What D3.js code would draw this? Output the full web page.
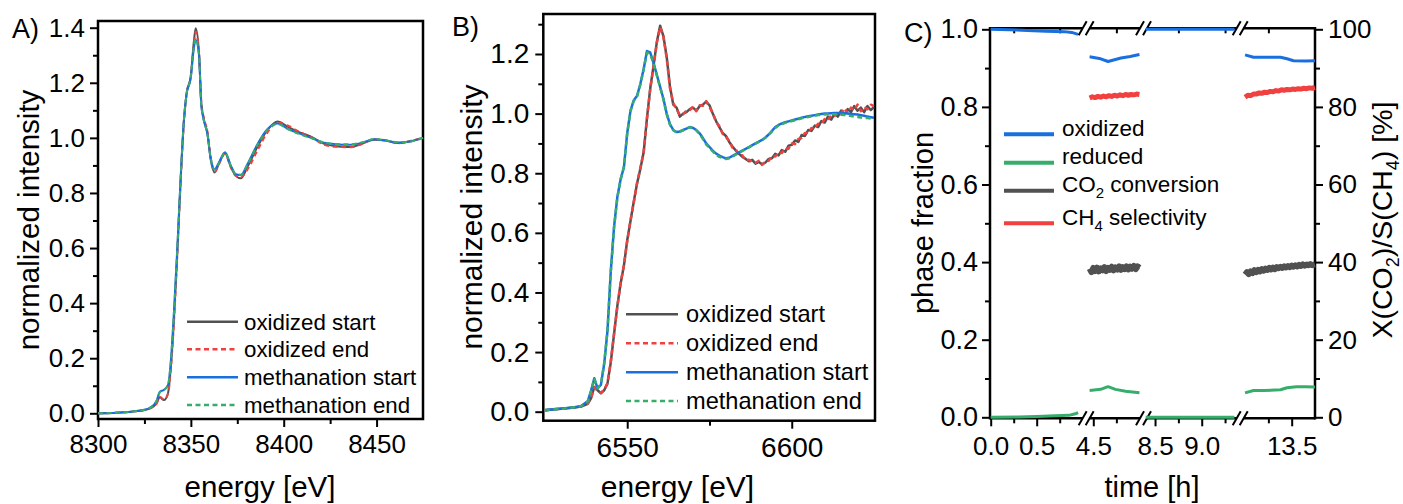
<!DOCTYPE html>
<html>
<head>
<meta charset="utf-8">
<script src="https://cdnjs.cloudflare.com/ajax/libs/d3/7.8.5/d3.min.js"></script>
<style>
  body { margin: 0; background: #fff; }
  svg text { font-family: "Liberation Sans", Arial, Helvetica, sans-serif; fill: #000; }
</style>
</head>
<body>
<div class="chart"></div>
<script>
// ---- panel A : Ni K-edge XANES ----
const aEnergy = [8300, 8310, 8318, 8325, 8328, 8331.5, 8333.3, 8335.5, 8337.7, 8339.1,
  8340.9, 8342.7, 8344.5, 8346.3, 8347.7, 8349.9, 8351.7, 8352.6, 8354.4, 8355.6,
  8357.1, 8358.9, 8360.7, 8362.8, 8365.2, 8368.4, 8371.5, 8374.2, 8376.9, 8380.5,
  8385.9, 8391.3, 8396.7, 8402.1, 8407.5, 8414.7, 8421.8, 8428, 8436.2, 8442,
  8448.8, 8455, 8461.4, 8468.6, 8475];
const aOxStart = [0.0, 0.002, 0.006, 0.012, 0.018, 0.036, 0.058, 0.048, 0.073, 0.157,
  0.339, 0.581, 0.847, 1.065, 1.162, 1.222, 1.355, 1.398, 1.307, 1.126,
  1.065, 1.017, 0.92, 0.874, 0.908, 0.944, 0.895, 0.862, 0.853, 0.895,
  0.968, 1.029, 1.059, 1.041, 1.023, 1.004, 0.978, 0.97, 0.967, 0.978,
  0.993, 0.99, 0.981, 0.988, 1.0];
const aOxEnd = [0.0, 0.002, 0.006, 0.012, 0.018, 0.034, 0.06, 0.05, 0.07, 0.15,
  0.33, 0.575, 0.84, 1.06, 1.16, 1.22, 1.34, 1.385, 1.31, 1.135,
  1.07, 1.025, 0.93, 0.876, 0.905, 0.942, 0.893, 0.862, 0.857, 0.885,
  0.955, 1.02, 1.055, 1.045, 1.025, 1.003, 0.975, 0.968, 0.966, 0.978,
  0.995, 0.992, 0.98, 0.99, 1.0];
const aMeStart = [0.0, 0.002, 0.006, 0.013, 0.02, 0.045, 0.078, 0.085, 0.103, 0.18,
  0.37, 0.6, 0.855, 1.07, 1.16, 1.215, 1.33, 1.355, 1.3, 1.12,
  1.06, 1.015, 0.925, 0.886, 0.912, 0.948, 0.9, 0.868, 0.865, 0.905,
  0.978, 1.032, 1.052, 1.033, 1.018, 1.0, 0.982, 0.977, 0.975, 0.982,
  0.995, 0.99, 0.983, 0.988, 1.0];
const aMeEnd = [0.0, 0.002, 0.006, 0.013, 0.02, 0.044, 0.076, 0.084, 0.102, 0.178,
  0.365, 0.598, 0.852, 1.068, 1.16, 1.218, 1.335, 1.36, 1.3, 1.122,
  1.06, 1.016, 0.926, 0.884, 0.91, 0.946, 0.899, 0.868, 0.866, 0.903,
  0.975, 1.03, 1.05, 1.032, 1.016, 0.999, 0.983, 0.978, 0.977, 0.983,
  0.996, 0.991, 0.984, 0.987, 1.0];
const aXTicks = [8300, 8350, 8400, 8450];
const aXMinor = [8325, 8375, 8425];
const aYTicks = [0, 0.2, 0.4, 0.6, 0.8, 1.0, 1.2, 1.4];
const aYMinor = [0.1, 0.3, 0.5, 0.7, 0.9, 1.1, 1.3];

// ---- panel B : Fe K-edge XANES ----
const bEnergy = [6525, 6528, 6531, 6534, 6536, 6538, 6539, 6540, 6541, 6542,
  6543, 6544, 6545, 6546, 6547, 6548, 6549, 6550, 6551, 6552,
  6553, 6554, 6555, 6556, 6557, 6558, 6559, 6560, 6561, 6562,
  6563, 6564, 6565, 6566, 6567, 6568, 6569, 6570, 6571, 6572,
  6573, 6574, 6575, 6576, 6577, 6578, 6579, 6580, 6581, 6582,
  6583, 6584, 6585, 6586, 6587, 6588, 6589, 6590, 6591, 6592,
  6593, 6594, 6595, 6596, 6597, 6598, 6599, 6600, 6601, 6602,
  6603, 6604, 6605, 6606, 6607, 6608, 6609, 6610, 6611, 6612,
  6613, 6614, 6615, 6616, 6617, 6618, 6619, 6620, 6621, 6622,
  6623, 6624, 6625];
const bOxStart = [0.005, 0.008, 0.011, 0.014, 0.017, 0.026, 0.045, 0.083, 0.072, 0.062,
  0.072, 0.094, 0.165, 0.26, 0.355, 0.43, 0.49, 0.575, 0.64, 0.705,
  0.766, 0.815, 0.87, 0.985, 1.085, 1.16, 1.24, 1.295, 1.26, 1.19,
  1.09, 1.03, 1.02, 0.99, 1.0, 1.005, 1.015, 1.02, 1.01, 1.025,
  1.03, 1.04, 1.028, 1.0, 0.975, 0.955, 0.935, 0.925, 0.905, 0.89,
  0.876, 0.865, 0.855, 0.848, 0.84, 0.845, 0.832, 0.838, 0.83, 0.836,
  0.848, 0.85, 0.865, 0.86, 0.878, 0.872, 0.892, 0.895, 0.91, 0.905,
  0.928, 0.925, 0.945, 0.942, 0.96, 0.955, 0.975, 0.97, 0.99, 0.98,
  1.0, 0.99, 1.01, 0.998, 1.015, 1.005, 1.025, 1.01, 1.02, 1.005,
  1.025, 1.012, 1.022];
const bOxEnd = [0.004, 0.009, 0.01, 0.015, 0.018, 0.027, 0.047, 0.081, 0.07, 0.063,
  0.074, 0.096, 0.168, 0.262, 0.352, 0.432, 0.492, 0.572, 0.642, 0.702,
  0.768, 0.818, 0.872, 0.982, 1.082, 1.158, 1.238, 1.29, 1.258, 1.185,
  1.085, 1.035, 1.015, 0.995, 0.998, 1.01, 1.012, 1.024, 1.008, 1.028,
  1.026, 1.042, 1.022, 1.002, 0.972, 0.958, 0.932, 0.922, 0.908, 0.886,
  0.88, 0.86, 0.86, 0.843, 0.845, 0.838, 0.835, 0.842, 0.828, 0.84,
  0.842, 0.858, 0.856, 0.87, 0.868, 0.884, 0.882, 0.9, 0.898, 0.915,
  0.918, 0.935, 0.935, 0.952, 0.95, 0.966, 0.965, 0.982, 0.978, 0.995,
  0.992, 1.005, 1.0, 1.018, 1.002, 1.02, 1.012, 1.03, 1.008, 1.022,
  1.015, 1.03, 1.025];
const bMeStart = [0.006, 0.008, 0.012, 0.015, 0.019, 0.035, 0.07, 0.112, 0.078, 0.09,
  0.16, 0.27, 0.47, 0.62, 0.72, 0.78, 0.82, 0.935, 1.01, 1.045,
  1.06, 1.1, 1.15, 1.21, 1.205, 1.17, 1.13, 1.09, 1.05, 1.0,
  0.965, 0.945, 0.938, 0.94, 0.945, 0.95, 0.955, 0.952, 0.945, 0.934,
  0.918, 0.9, 0.888, 0.876, 0.866, 0.859, 0.854, 0.85, 0.852, 0.858,
  0.864, 0.87, 0.876, 0.882, 0.888, 0.894, 0.9, 0.906, 0.912, 0.92,
  0.93, 0.942, 0.955, 0.962, 0.967, 0.971, 0.974, 0.977, 0.98, 0.983,
  0.986, 0.989, 0.991, 0.993, 0.995, 0.997, 0.999, 1.0, 1.0, 1.001,
  1.002, 1.002, 1.002, 1.001, 1.0, 0.999, 0.998, 0.997, 0.995, 0.993,
  0.99, 0.988, 0.986];
const bMeEnd = [0.005, 0.008, 0.011, 0.015, 0.019, 0.034, 0.068, 0.11, 0.079, 0.092,
  0.162, 0.272, 0.468, 0.618, 0.718, 0.778, 0.822, 0.932, 1.008, 1.043,
  1.058, 1.098, 1.148, 1.205, 1.2, 1.168, 1.128, 1.088, 1.048, 0.998,
  0.962, 0.944, 0.937, 0.94, 0.944, 0.95, 0.954, 0.951, 0.944, 0.932,
  0.915, 0.897, 0.885, 0.873, 0.862, 0.855, 0.851, 0.848, 0.85, 0.856,
  0.862, 0.868, 0.875, 0.881, 0.887, 0.893, 0.899, 0.905, 0.911, 0.919,
  0.929, 0.94, 0.952, 0.96, 0.965, 0.969, 0.972, 0.975, 0.978, 0.981,
  0.984, 0.987, 0.989, 0.991, 0.993, 0.995, 0.996, 0.997, 0.998, 0.998,
  0.998, 0.997, 0.996, 0.995, 0.994, 0.992, 0.99, 0.989, 0.987, 0.986,
  0.985, 0.984, 0.984];
const bXTicks = [6550, 6600];
const bXMinor = [6575];
const bYTicks = [0, 0.2, 0.4, 0.6, 0.8, 1.0, 1.2];
const bYMinor = [0.1, 0.3, 0.5, 0.7, 0.9, 1.1, 1.3];

const spectraLabels = ['oxidized start', 'oxidized end', 'methanation start', 'methanation end'];

// ---- panel C : phase fractions and catalytic performance vs time ----
// each series is a list of segments (one per broken-axis block), points are [time h, value]
const cOxidized = [
  [[0, 1.0], [0.2, 0.999], [0.4, 0.997], [0.6, 0.995], [0.8, 0.994], [0.88, 0.992], [0.95, 0.987]],
  [[4.46, 0.929], [4.58, 0.924], [4.66, 0.917], [4.74, 0.922], [4.8, 0.926], [4.9, 0.93], [5.0, 0.935]],
  [[8.4, 1.0], [8.9, 1.0], [9.35, 1.0]],
  [[13.0, 0.934], [13.09, 0.928], [13.2, 0.928], [13.38, 0.928], [13.45, 0.924], [13.52, 0.919], [13.65, 0.918], [13.75, 0.919]]
];
const cReduced = [
  [[0, 0.0], [0.3, 0.001], [0.5, 0.002], [0.7, 0.004], [0.85, 0.005], [0.92, 0.009], [0.95, 0.012]],
  [[4.46, 0.069], [4.58, 0.072], [4.66, 0.079], [4.74, 0.072], [4.85, 0.067], [5.0, 0.063]],
  [[8.4, 0.0], [8.9, 0.0], [9.35, 0.0]],
  [[13.0, 0.063], [13.09, 0.069], [13.2, 0.069], [13.38, 0.071], [13.45, 0.076], [13.55, 0.079], [13.65, 0.079], [13.75, 0.078]]
];
const cCO2Conv = [
  [[4.46, 38.3], [4.48, 37.4], [4.5, 38.5], [4.52, 37.7], [4.54, 38.6], [4.56, 37.6], [4.58, 38.4], [4.6, 37.9],
   [4.62, 38.7], [4.64, 37.7], [4.66, 38.5], [4.68, 38.0], [4.7, 38.8], [4.72, 37.9], [4.74, 38.6], [4.76, 38.1],
   [4.78, 38.9], [4.8, 38.0], [4.82, 38.7], [4.84, 38.2], [4.86, 38.9], [4.88, 38.1], [4.9, 38.8], [4.92, 38.3],
   [4.94, 39.0], [4.96, 38.2], [4.98, 38.9], [5.0, 38.5]],
  [[13.0, 36.8], [13.02, 37.4], [13.04, 36.9], [13.06, 37.6], [13.08, 37.2], [13.1, 37.9], [13.12, 37.4], [13.14, 38.0],
   [13.16, 37.6], [13.18, 38.2], [13.2, 37.8], [13.22, 38.3], [13.24, 38.0], [13.26, 38.5], [13.28, 38.1], [13.3, 38.6],
   [13.32, 38.2], [13.34, 38.7], [13.36, 38.4], [13.38, 38.8], [13.4, 38.5], [13.42, 38.9], [13.44, 38.6], [13.46, 39.0],
   [13.48, 38.7], [13.5, 39.1], [13.52, 38.8], [13.54, 39.2], [13.56, 38.9], [13.58, 39.3], [13.6, 39.0], [13.62, 39.4],
   [13.64, 39.1], [13.66, 39.4], [13.68, 39.2], [13.7, 39.5], [13.72, 39.2], [13.75, 39.4]]
];
const cCH4Sel = [
  [[4.46, 82.3], [4.49, 82.6], [4.52, 82.4], [4.55, 82.7], [4.58, 82.5], [4.61, 82.8], [4.64, 82.6], [4.67, 82.9],
   [4.7, 82.7], [4.73, 83.0], [4.76, 82.8], [4.79, 83.1], [4.82, 82.9], [4.85, 83.2], [4.88, 83.0], [4.91, 83.2],
   [4.94, 83.1], [4.97, 83.3], [5.0, 83.2]],
  [[13.0, 82.5], [13.03, 83.0], [13.06, 82.9], [13.09, 83.3], [13.12, 83.3], [13.15, 83.6], [13.18, 83.5], [13.21, 83.8],
   [13.24, 83.7], [13.27, 84.0], [13.3, 83.9], [13.33, 84.2], [13.36, 84.1], [13.39, 84.4], [13.42, 84.3], [13.45, 84.5],
   [13.48, 84.4], [13.51, 84.6], [13.54, 84.5], [13.57, 84.7], [13.6, 84.6], [13.63, 84.8], [13.66, 84.7], [13.69, 84.9],
   [13.72, 84.8], [13.75, 85.0]]
];
const cSegments = [[0, 1.0], [4.46, 5.02], [8.4, 9.38], [12.98, 13.75]];
const cTimeTicks = [0, 0.5, 4.5, 8.5, 9.0, 13.5];
const cTimeMinor = [0.25, 0.75, 4.75, 8.75, 9.25, 13.25];
const cYTicks = [0, 0.2, 0.4, 0.6, 0.8, 1.0];
const cYMinor = [0.1, 0.3, 0.5, 0.7, 0.9];
const cRTicks = [0, 20, 40, 60, 80, 100];
const cRMinor = [10, 30, 50, 70, 90];

const grey = '#515151', red = '#F14040', blue = '#1A6FDF', green = '#37AD6B';

const svg = d3.select('.chart').append('svg')
  .attr('width', 1403).attr('height', 504)
  .style('background', '#fff');

function styleAxis(g, fontSize){
  g.select('.domain').remove();
  g.selectAll('line').attr('stroke', '#000').attr('stroke-width', 2);
  g.selectAll('text').style('font-size', fontSize + 'px').attr('fill', '#000');
}

function drawSpectrumPanel(p){
  const g = svg.append('g');
  const x = d3.scaleLinear().domain(p.xDomain).range([p.left, p.right]);
  const y = d3.scaleLinear().domain(p.yDomain).range(p.yRange);

  g.append('g').attr('transform', `translate(0,${p.bottom})`)
    .call(d3.axisBottom(x).tickValues(p.xMinor).tickSize(5).tickFormat(''))
    .call(s => styleAxis(s, p.tickFont));
  g.append('g').attr('transform', `translate(0,${p.bottom})`)
    .call(d3.axisBottom(x).tickValues(p.xTicks).tickSize(8).tickPadding(8).tickFormat(d3.format('d')))
    .call(s => styleAxis(s, p.tickFont));
  g.append('g').attr('transform', `translate(${p.left},0)`)
    .call(d3.axisLeft(y).tickValues(p.yMinor).tickSize(5).tickFormat(''))
    .call(s => styleAxis(s, p.tickFont));
  g.append('g').attr('transform', `translate(${p.left},0)`)
    .call(d3.axisLeft(y).tickValues(p.yTicks).tickSize(8).tickPadding(p.yPad).tickFormat(d3.format('.1f')))
    .call(s => styleAxis(s, p.tickFont));

  g.append('rect')
    .attr('x', p.left).attr('y', p.top)
    .attr('width', p.right - p.left).attr('height', p.bottom - p.top)
    .attr('fill', 'none').attr('stroke', '#000').attr('stroke-width', 2.5);

  const lineGen = d3.line().x(d => x(d[0])).y(d => y(d[1])).curve(p.curve);
  g.selectAll('.series').data(p.series).enter()
    .append('path')
    .attr('class', 'series')
    .attr('d', d => lineGen(d.values.map((v, i) => [p.energy[i], v])))
    .attr('fill', 'none')
    .attr('stroke', d => d.color)
    .attr('stroke-width', p.lineWidth)
    .attr('stroke-dasharray', d => d.dashed ? '5,3.5' : null)
    .attr('stroke-linejoin', 'round');

  const leg = g.append('g');
  p.series.forEach((s, i) => {
    const ly = p.legend.rows[i];
    leg.append('line')
      .attr('x1', p.legend.x1).attr('x2', p.legend.x2)
      .attr('y1', ly).attr('y2', ly)
      .attr('stroke', s.color).attr('stroke-width', 2.5)
      .attr('stroke-dasharray', s.dashed ? '5,3.5' : null);
    leg.append('text')
      .attr('x', p.legend.tx).attr('y', ly + 8)
      .style('font-size', p.legend.font + 'px')
      .text(s.name);
  });

  g.append('text')
    .attr('x', p.xTitle[0]).attr('y', p.xTitle[1])
    .attr('text-anchor', 'middle')
    .style('font-size', p.titleFont + 'px')
    .text('energy [eV]');
  g.append('text')
    .attr('transform', `translate(${p.yTitle[0]},${p.yTitle[1]}) rotate(-90)`)
    .attr('text-anchor', 'middle')
    .style('font-size', p.titleFont + 'px')
    .text('normalized intensity');
  g.append('text')
    .attr('x', p.tag[0]).attr('y', p.tag[1])
    .style('font-size', '27px')
    .text(p.tagText);
}

drawSpectrumPanel({
  left: 98, right: 423, top: 21, bottom: 419,
  xDomain: [8300, 8475], yDomain: [0, 1.4], yRange: [413.3, 27.7],
  xTicks: aXTicks, xMinor: aXMinor, yTicks: aYTicks, yMinor: aYMinor,
  tickFont: 26, titleFont: 29.5, yPad: 5, lineWidth: 2,
  curve: d3.curveMonotoneX,
  energy: aEnergy,
  series: [
    {name: spectraLabels[0], color: grey, dashed: false, values: aOxStart},
    {name: spectraLabels[1], color: red, dashed: true, values: aOxEnd},
    {name: spectraLabels[2], color: blue, dashed: false, values: aMeStart},
    {name: spectraLabels[3], color: green, dashed: true, values: aMeEnd}
  ],
  legend: {x1: 187, x2: 238, tx: 244, font: 22.3, rows: [321.7, 349.3, 377.3, 405]},
  xTitle: [260, 497], yTitle: [39, 220],
  tag: [12, 38], tagText: 'A)'
});

drawSpectrumPanel({
  left: 543.3, right: 875, top: 14, bottom: 420.7,
  xDomain: [6524.5, 6625.3], yDomain: [0, 1.2], yRange: [411.7, 54],
  xTicks: bXTicks, xMinor: bXMinor, yTicks: bYTicks, yMinor: bYMinor,
  tickFont: 28, titleFont: 30, yPad: 6, lineWidth: 2.5,
  curve: d3.curveLinear,
  energy: bEnergy,
  series: [
    {name: spectraLabels[0], color: grey, dashed: false, values: bOxStart},
    {name: spectraLabels[1], color: red, dashed: true, values: bOxEnd},
    {name: spectraLabels[2], color: blue, dashed: false, values: bMeStart},
    {name: spectraLabels[3], color: green, dashed: true, values: bMeEnd}
  ],
  legend: {x1: 626, x2: 678, tx: 686, font: 23.6, rows: [314.3, 343.3, 372.3, 401]},
  xTitle: [677.5, 497], yTitle: [482, 217],
  tag: [452, 36], tagText: 'B)'
});

// ---- panel C ----
(function drawPanelC(){
  const left = 990, right = 1315, top = 28.3, bottom = 418.3;
  const g = svg.append('g');
  const segRanges = [[990.7, 1082.7], [1089.6, 1141.3], [1145.7, 1237.2], [1243.2, 1315]];
  const x = d3.scaleLinear()
    .domain(cSegments.flat())
    .range(segRanges.flat());
  const yL = d3.scaleLinear().domain([0, 1]).range([417.3, 29.3]);
  const yR = d3.scaleLinear().domain([0, 100]).range([417.3, 29.3]);

  // ticks
  g.append('g').attr('transform', `translate(0,${bottom})`)
    .call(d3.axisBottom(x).tickValues(cTimeMinor).tickSize(5).tickFormat(''))
    .call(s => styleAxis(s, 26));
  g.append('g').attr('transform', `translate(0,${bottom})`)
    .call(d3.axisBottom(x).tickValues(cTimeTicks).tickSize(8).tickPadding(10).tickFormat(d3.format('.1f')))
    .call(s => styleAxis(s, 26));
  g.append('g').attr('transform', `translate(0,${top})`)
    .call(d3.axisBottom(x).tickValues(cTimeMinor).tickSize(5).tickFormat(''))
    .call(s => styleAxis(s, 26));
  g.append('g').attr('transform', `translate(${left},0)`)
    .call(d3.axisLeft(yL).tickValues(cYMinor).tickSize(5).tickFormat(''))
    .call(s => styleAxis(s, 27));
  g.append('g').attr('transform', `translate(${left},0)`)
    .call(d3.axisLeft(yL).tickValues(cYTicks).tickSize(8).tickPadding(4).tickFormat(d3.format('.1f')))
    .call(s => styleAxis(s, 27));
  g.append('g').attr('transform', `translate(${right},0)`)
    .call(d3.axisRight(yR).tickValues(cRMinor).tickSize(5).tickFormat(''))
    .call(s => styleAxis(s, 26));
  g.append('g').attr('transform', `translate(${right},0)`)
    .call(d3.axisRight(yR).tickValues(cRTicks).tickSize(8).tickPadding(5).tickFormat(d3.format('d')))
    .call(s => styleAxis(s, 26));

  // frame with axis breaks
  const frame = g.append('g').attr('stroke', '#000').attr('stroke-width', 2.5).attr('fill', 'none');
  frame.append('line').attr('x1', left).attr('x2', left).attr('y1', top - 1.2).attr('y2', bottom + 1.2);
  frame.append('line').attr('x1', right).attr('x2', right).attr('y1', top - 1.2).attr('y2', bottom + 1.2);
  const breaks = segRanges.slice(1).map((r, i) => (segRanges[i][1] + r[0]) / 2);
  const edges = [left].concat(breaks.flatMap(b => [b - 3.5, b + 3.5]), [right]);
  [top, bottom].forEach(yy => {
    for (let i = 0; i < edges.length; i += 2) {
      frame.append('line').attr('x1', edges[i]).attr('x2', edges[i + 1]).attr('y1', yy).attr('y2', yy);
    }
    breaks.forEach(b => {
      [-3.5, 3.5].forEach(off => {
        frame.append('line')
          .attr('stroke-width', 2)
          .attr('x1', b + off - 4).attr('y1', yy + 7)
          .attr('x2', b + off + 4).attr('y2', yy - 7);
      });
    });
  });

  // data
  const lineL = d3.line().x(d => x(d[0])).y(d => yL(d[1]));
  const lineR = d3.line().x(d => x(d[0])).y(d => yR(d[1]));
  const cSeries = [
    {name: 'oxidized', color: blue, width: 3, gen: lineL, segs: cOxidized},
    {name: 'reduced', color: green, width: 3, gen: lineL, segs: cReduced},
    {name: 'CO2 conversion', color: grey, width: 6, gen: lineR, segs: cCO2Conv},
    {name: 'CH4 selectivity', color: red, width: 5, gen: lineR, segs: cCH4Sel}
  ];
  cSeries.forEach(s => {
    g.append('g').selectAll('path').data(s.segs).enter()
      .append('path')
      .attr('d', d => s.gen(d))
      .attr('fill', 'none')
      .attr('stroke', s.color)
      .attr('stroke-width', s.width)
      .attr('stroke-linejoin', 'round');
  });

  // legend
  const legRows = [134.3, 162.7, 190.7, 223.3];
  const legText = [
    [['oxidized', null]],
    [['reduced', null]],
    [['CO', null], ['2', 'sub'], [' conversion', null]],
    [['CH', null], ['4', 'sub'], [' selectivity', null]]
  ];
  cSeries.forEach((s, i) => {
    g.append('line')
      .attr('x1', 1004).attr('x2', 1054)
      .attr('y1', legRows[i]).attr('y2', legRows[i])
      .attr('stroke', s.color).attr('stroke-width', 4);
    const t = g.append('text').attr('x', 1062).attr('y', legRows[i] + 7.6).style('font-size', '22.5px');
    legText[i].forEach(part => {
      if (part[1] === 'sub') {
        t.append('tspan').attr('dy', 6).style('font-size', '15px').text(part[0]);
      } else {
        t.append('tspan').attr('dy', t.selectAll('tspan').size() ? -6 : 0).text(part[0]);
      }
    });
  });

  // titles
  g.append('text')
    .attr('x', 1152).attr('y', 497)
    .attr('text-anchor', 'middle').style('font-size', '29px')
    .text('time [h]');
  g.append('text')
    .attr('transform', 'translate(933,223) rotate(-90)')
    .attr('text-anchor', 'middle').style('font-size', '29px')
    .text('phase fraction');
  const rt = g.append('text')
    .attr('transform', 'translate(1392,220) rotate(-90)')
    .attr('text-anchor', 'middle').style('font-size', '28.5px');
  rt.append('tspan').text('X(CO');
  rt.append('tspan').attr('dy', 7).style('font-size', '18px').text('2');
  rt.append('tspan').attr('dy', -7).text(')/S(CH');
  rt.append('tspan').attr('dy', 7).style('font-size', '18px').text('4');
  rt.append('tspan').attr('dy', -7).text(') [%]');
  g.append('text')
    .attr('x', 904).attr('y', 42)
    .style('font-size', '27px')
    .text('C)');
})();
</script>
</body>
</html>
